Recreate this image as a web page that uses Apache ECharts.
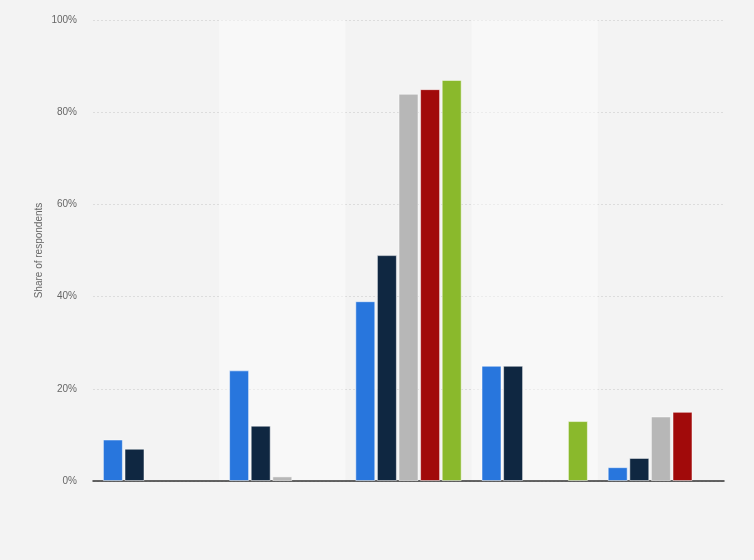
<!DOCTYPE html>
<html>
<head>
<meta charset="utf-8">
<script src="https://cdn.jsdelivr.net/npm/echarts@6/dist/echarts.min.js"></script>
<style>
html,body{margin:0;padding:0;background:#f3f3f3;}
#c{width:754px;height:560px;}
</style>
</head>
<body>
<div id="c"></div>
<script>
var categories = ['Group 1', 'Group 2', 'Group 3', 'Group 4', 'Group 5'];
var seriesNames = ['Series 1', 'Series 2', 'Series 3', 'Series 4', 'Series 5'];
var series1 = [9, 24, 39, 25, 3];
var series2 = [7, 12, 49, 25, 5];
var series3 = [null, 1, 84, null, 14];
var series4 = [null, null, 85, null, 15];
var series5 = [null, null, 87, 13, null];
var yTicks = [0, 20, 40, 60, 80, 100];
var colors = ['#2876dd', '#0f2741', '#b7b7b7', '#a10a0a', '#8ab92c'];

var allValues = [series1, series2, series3, series4, series5];
var chart = echarts.init(document.getElementById('c'));
chart.setOption({
  backgroundColor: '#f3f3f3',
  animation: false,
  grid: {left: 93, right: 30, top: 20, bottom: 79},
  xAxis: {
    type: 'category',
    data: categories,
    axisLine: {show: true, lineStyle: {color: '#333', width: 1.5}},
    axisTick: {show: false},
    axisLabel: {show: false},
    splitArea: {show: true, areaStyle: {color: ['rgba(255,255,255,0)', 'rgba(255,255,255,0.45)']}}
  },
  yAxis: {
    type: 'value',
    min: yTicks[0],
    max: yTicks[yTicks.length - 1],
    interval: yTicks[1] - yTicks[0],
    name: 'Share of respondents',
    nameLocation: 'middle',
    nameGap: 49,
    nameMoveOverlap: false,
    nameTextStyle: {color: '#666', fontSize: 10, fontFamily: 'Liberation Sans, Arial, sans-serif'},
    axisLine: {show: false},
    axisTick: {show: false},
    axisLabel: {formatter: '{value}%', color: '#666', fontSize: 10, margin: 16, padding: [3, 0, 0, 0], fontFamily: 'Liberation Sans, Arial, sans-serif'},
    splitLine: {lineStyle: {color: '#dcdcdc', type: [2, 2], width: 1}}
  },
  series: allValues.map(function (vals, i) {
    return {
      name: seriesNames[i],
      type: 'bar',
      data: vals,
      barWidth: 20,
      barGap: '8%',
      itemStyle: {color: colors[i], borderColor: 'rgba(255,255,255,0.5)', borderWidth: 1}
    };
  })
});
</script>
</body>
</html>
